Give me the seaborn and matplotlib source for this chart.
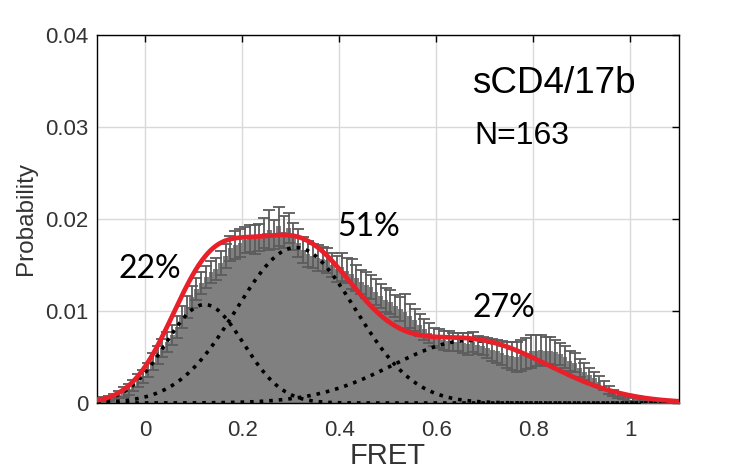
import numpy as np
import pandas as pd
import matplotlib
matplotlib.use("Agg")
import matplotlib.pyplot as plt
import seaborn as sns

# ---------------- data ----------------
bin_edges_start = -0.1
bin_width = 0.01
# probability per FRET bin (bins of 0.01 from -0.1 to 1.1)
prob = [
    0.0003, 0.0004, 0.0005, 0.0007, 0.0009, 0.0012, 0.0015, 0.0019, 0.0024, 0.0029,   # -0.1 .. 0
    0.0036, 0.0045, 0.0052, 0.0060, 0.0066, 0.0074, 0.0083, 0.0093, 0.0104, 0.0115,   # 0 .. 0.1
    0.0124, 0.0130, 0.0137, 0.0142, 0.0146, 0.0152, 0.0160, 0.0168, 0.0172, 0.0174,   # 0.1 .. 0.2
    0.0177, 0.0179, 0.0178, 0.0180, 0.0185, 0.0188, 0.0183, 0.0192, 0.0186, 0.0190,   # 0.2 .. 0.3
    0.0181, 0.0174, 0.0166, 0.0162, 0.0160, 0.0158, 0.0157, 0.0155, 0.0150, 0.0146,   # 0.3 .. 0.4
    0.0148, 0.0144, 0.0140, 0.0136, 0.0132, 0.0128, 0.0126, 0.0121, 0.0116, 0.0112,   # 0.4 .. 0.5
    0.0110, 0.0105, 0.0102, 0.0099, 0.0095, 0.0090, 0.0085, 0.0080, 0.0076, 0.0072,   # 0.5 .. 0.6
    0.0070, 0.0068, 0.0067, 0.0066, 0.0066, 0.0065, 0.0064, 0.0066, 0.0063, 0.0062,   # 0.6 .. 0.7
    0.0060, 0.0058, 0.0056, 0.0054, 0.0052, 0.0051, 0.0050, 0.0052, 0.0054, 0.0056,   # 0.7 .. 0.8
    0.0057, 0.0058, 0.0056, 0.0057, 0.0055, 0.0053, 0.0050, 0.0046, 0.0044, 0.0038,   # 0.8 .. 0.9
    0.0034, 0.0030, 0.0027, 0.0023, 0.0019, 0.0014, 0.0011, 0.0008, 0.0006, 0.0004,   # 0.9 .. 1.0
    0.0003, 0.0002, 0.0002, 0.0001, 0.0001, 0.0001, 0.0001, 0.0000, 0.0000, 0.0000,   # 1.0 .. 1.1
]
# error (half-length) per bin
prob_err = [
    0.0002, 0.0002, 0.0003, 0.0003, 0.0004, 0.0005, 0.0006, 0.0006, 0.0007, 0.0007,
    0.0008, 0.0009, 0.0010, 0.0010, 0.0011, 0.0011, 0.0012, 0.0012, 0.0012, 0.0012,
    0.0012, 0.0012, 0.0012, 0.0012, 0.0012, 0.0013, 0.0013, 0.0014, 0.0015, 0.0015,
    0.0014, 0.0015, 0.0016, 0.0015, 0.0016, 0.0022, 0.0016, 0.0021, 0.0017, 0.0016,
    0.0015, 0.0015, 0.0014, 0.0014, 0.0013, 0.0014, 0.0013, 0.0014, 0.0013, 0.0014,
    0.0015, 0.0014, 0.0016, 0.0014, 0.0013, 0.0014, 0.0013, 0.0014, 0.0013, 0.0013,
    0.0013, 0.0012, 0.0013, 0.0020, 0.0013, 0.0012, 0.0012, 0.0011, 0.0011, 0.0010,
    0.0010, 0.0010, 0.0011, 0.0010, 0.0010, 0.0011, 0.0012, 0.0011, 0.0010, 0.0010,
    0.0011, 0.0012, 0.0013, 0.0013, 0.0014, 0.0015, 0.0016, 0.0017, 0.0017, 0.0018,
    0.0017, 0.0016, 0.0016, 0.0015, 0.0014, 0.0012, 0.0012, 0.0011, 0.0010, 0.0010,
    0.0009, 0.0008, 0.0007, 0.0006, 0.0005, 0.0004, 0.0003, 0.0003, 0.0002, 0.0002,
    0.0002, 0.0001, 0.0001, 0.0001, 0.0001, 0.0001, 0.0001, 0.0000, 0.0000, 0.0000,
]

# Gaussian fit components: amplitude, centre, sigma
fit_amp = [0.0107, 0.0169, 0.0068]
fit_mu = [0.122, 0.310, 0.670]
fit_sigma = [0.080, 0.122, 0.160]

pct_labels = ["22%", "51%", "27%"]
pct_pos = [(-0.055, 0.0136), (0.395, 0.0181), (0.674, 0.0093)]
title_text = "sCD4/17b"
n_text = "N=163"

x_ticks = [0, 0.2, 0.4, 0.6, 0.8, 1.0]
x_tick_labels = ["0", "0.2", "0.4", "0.6", "0.8", "1"]
y_ticks = [0, 0.01, 0.02, 0.03, 0.04]
y_tick_labels = ["0", "0.01", "0.02", "0.03", "0.04"]

# ---------------- plot ----------------
sns.set_theme(style="white")
plt.rcParams["font.family"] = ["Liberation Sans", "DejaVu Sans"]

nb = len(prob)
centers = bin_edges_start + bin_width * (np.arange(nb) + 0.5)
df = pd.DataFrame({"FRET": centers, "prob": prob, "err": prob_err})

fig = plt.figure(figsize=(7.5, 4.75), dpi=100)
ax = fig.add_axes([0.1293, 0.1516, 0.776, 0.7747])

sns.histplot(data=df, x="FRET", weights="prob", bins=nb,
             binrange=(bin_edges_start, bin_edges_start + nb * bin_width),
             stat="count", color="#808080", alpha=1.0, edgecolor="none",
             linewidth=0, ax=ax, zorder=2)

ax.errorbar(df["FRET"], df["prob"], yerr=df["err"], fmt="none",
            ecolor="#5c5c5c", elinewidth=1.3, capsize=4.5, capthick=1.3, zorder=3)

xs = np.linspace(-0.1, 1.1, 721)
total = np.zeros_like(xs)
for a, m, s in zip(fit_amp, fit_mu, fit_sigma):
    comp = a * np.exp(-(xs - m) ** 2 / (2 * s ** 2))
    total += comp
    sns.lineplot(x=xs, y=comp, ax=ax, color="black", linestyle=":", linewidth=2.6, zorder=4)
sns.lineplot(x=xs, y=total, ax=ax, color="#e8202a", linewidth=3.4, zorder=5)

ax.set_xlim(-0.1, 1.1)
ax.set_ylim(0, 0.04)
ax.set_xticks(x_ticks)
ax.set_xticklabels(x_tick_labels)
ax.set_yticks(y_ticks)
ax.set_yticklabels(y_tick_labels)
ax.grid(True, color="#d9d9d9", linewidth=1.0)
ax.set_axisbelow(True)
ax.tick_params(direction="in", top=True, right=True, length=5, width=1,
               color="black", labelsize=16, labelcolor="#333333")
ax.tick_params(axis="x", pad=12)
ax.tick_params(axis="y", pad=6)
for sp in ax.spines.values():
    sp.set_visible(True)
    sp.set_color("black")
    sp.set_linewidth(1.0)

ax.set_xlabel("FRET", fontsize=21, color="#333333", labelpad=1)
ax.set_ylabel("Probability", fontsize=17.5, color="#333333", labelpad=6)

for lab, (px, py) in zip(pct_labels, pct_pos):
    ax.text(px, py, lab, fontsize=23, family=["Lato", "DejaVu Sans"], color="black",
            ha="left", va="baseline", zorder=6)
ax.text(0.674, 0.0337, title_text, fontsize=26.5, color="black", ha="left", va="baseline", zorder=6)
ax.text(0.678, 0.0282, n_text, fontsize=23, color="black", ha="left", va="baseline", zorder=6)

fig.savefig("out.png", dpi=100)
